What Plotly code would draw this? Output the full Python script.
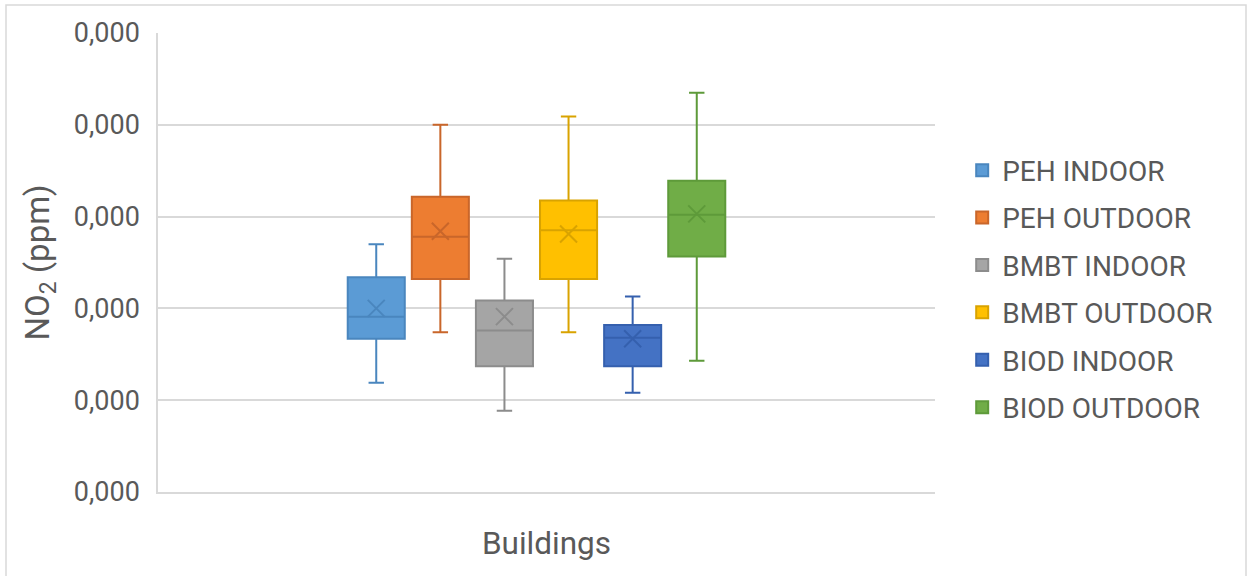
import plotly.graph_objects as go

# ---- data (in units of the y gridline step; tick labels read "0,000") ----
SERIES = ["PEH INDOOR", "PEH OUTDOOR", "BMBT INDOOR", "BMBT OUTDOOR", "BIOD INDOOR", "BIOD OUTDOOR"]
CATEGORY = ["Buildings"]
LOWER = [1.19, 1.74, 0.885, 1.74, 1.08, 1.43]
Q1 = [1.67, 2.32, 1.37, 2.32, 1.37, 2.565]
MEDIAN = [1.91, 2.78, 1.76, 2.85, 1.68, 3.02]
Q3 = [2.34, 3.215, 2.085, 3.175, 1.82, 3.39]
UPPER = [2.70, 4.00, 2.54, 4.09, 2.13, 4.35]
MEAN = [2.00, 2.84, 1.91, 2.81, 1.67, 3.03]
Y_TICKS = [0, 1, 2, 3, 4, 5]
Y_TICK_LABELS = ["0,000", "0,000", "0,000", "0,000", "0,000", "0,000"]

FILL = ["#5B9BD5", "#ED7D31", "#A5A5A5", "#FFC000", "#4472C4", "#70AD47"]
EDGE = ["#4A86BE", "#C9662A", "#8C8C8C", "#D9A300", "#3560AE", "#5E9A3A"]

TEXT = "#595959"
GRID = "#D9D9D9"
FONT = "Roboto"

fig = go.Figure()
for i, name in enumerate(SERIES):
    fig.add_trace(go.Box(
        name=name, x=CATEGORY,
        q1=[Q1[i]], median=[MEDIAN[i]], q3=[Q3[i]],
        lowerfence=[LOWER[i]], upperfence=[UPPER[i]],
        fillcolor=FILL[i], line=dict(color=EDGE[i], width=2),
        whiskerwidth=0.27, offsetgroup=str(i), legendgroup=str(i),
        hoverinfo="skip",
    ))
for i, name in enumerate(SERIES):
    fig.add_trace(go.Scatter(
        x=CATEGORY, y=[MEAN[i]], mode="markers", showlegend=False,
        offsetgroup=str(i), legendgroup=str(i),
        marker=dict(symbol="x-thin", size=17, line=dict(color=EDGE[i], width=2)),
        hoverinfo="skip",
    ))

shift = 10 / 777
fig.update_layout(
    width=1249, height=576,
    margin=dict(l=158, r=314, t=33, b=84, pad=0),
    paper_bgcolor="white", plot_bgcolor="white",
    boxmode="group", boxgap=0.505, boxgroupgap=0.11,
    scattermode="group", scattergap=0.505,
    font=dict(family=FONT, color=TEXT),
    showlegend=True,
    legend=dict(
        x=1.035, xanchor="left", y=0.755, yanchor="top",
        font=dict(size=28, color=TEXT, family=FONT),
        tracegroupgap=8, bgcolor="rgba(0,0,0,0)",
    ),
    xaxis=dict(
        range=[-0.5 + shift, 0.5 + shift],
        showticklabels=False, showgrid=False, zeroline=False,
        showline=True, linecolor=GRID, linewidth=1.5,
        title=dict(text="Buildings", font=dict(size=31.5, color=TEXT, family=FONT), standoff=39),
    ),
    yaxis=dict(
        range=[0, 5], tickvals=Y_TICKS, ticktext=Y_TICK_LABELS,
        showgrid=True, gridcolor=GRID, gridwidth=1.5, zeroline=False,
        showline=True, linecolor=GRID, linewidth=1.5,
        ticks="", ticklabelstandoff=11,
        tickfont=dict(size=27, color=TEXT, family=FONT),
        title=dict(text="NO<sub>2</sub> (ppm)", font=dict(size=33, color=TEXT, family=FONT), standoff=14),
    ),
    shapes=[dict(type="rect", xref="paper", yref="paper",
                 x0=(6 - 158) / 777, x1=(1246 - 158) / 777,
                 y0=-0.3, y1=(492 - 5) / 459,
                 line=dict(color=GRID, width=1.5), fillcolor="rgba(0,0,0,0)", layer="below")],
)

fig.write_html("out.html")
